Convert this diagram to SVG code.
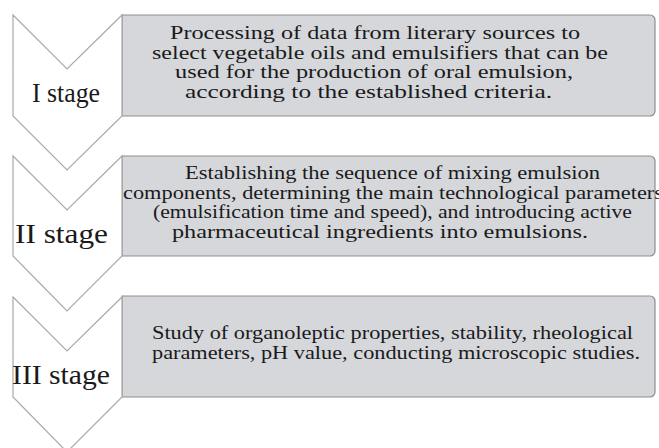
<svg xmlns="http://www.w3.org/2000/svg" width="659" height="448" viewBox="0 0 659 448">
<style>
.box{fill:#d5d7da;stroke:#8e8e8e;stroke-width:1.2}
.chev{fill:#ffffff;stroke:#a9a9a9;stroke-width:1.2;stroke-linejoin:miter}
.lbl{font-family:"Liberation Serif","Times New Roman",serif;font-size:27px;fill:#1a1a1a}
.txt{font-family:"Liberation Serif","Times New Roman",serif;font-size:19px;fill:#1a1a1a}
</style>
<rect width="659" height="448" fill="#ffffff"/>
<g id="connectors"></g>
<g id="stage1">
<path class="box" d="M122,15 H650 A5,5 0 0 1 655,20 V111 A5,5 0 0 1 650,116 H122 Z"/>
<path class="chev" d="M13,15 L67,69 L122,15 L122,116 L67,170 L13,116 Z"/>
<text class="lbl" x="32" y="102" textLength="68" lengthAdjust="spacingAndGlyphs">I stage</text>
<text class="txt" x="170" y="39" textLength="410" lengthAdjust="spacingAndGlyphs">Processing of data from literary sources to</text>
<text class="txt" x="152" y="58.5" textLength="456" lengthAdjust="spacingAndGlyphs">select vegetable oils and emulsifiers that can be</text>
<text class="txt" x="175" y="78" textLength="398" lengthAdjust="spacingAndGlyphs">used for the production of oral emulsion,</text>
<text class="txt" x="185" y="97.5" textLength="367" lengthAdjust="spacingAndGlyphs">according to the established criteria.</text>
</g>
<g id="stage2">
<path class="box" d="M122,156 H650 A5,5 0 0 1 655,161 V251 A5,5 0 0 1 650,256 H122 Z"/>
<path class="chev" d="M13,156 L67,210 L122,156 L122,256 L67,311 L13,256 Z"/>
<text class="lbl" x="15" y="243" textLength="93" lengthAdjust="spacingAndGlyphs">II stage</text>
<text class="txt" x="185" y="179" textLength="415" lengthAdjust="spacingAndGlyphs">Establishing the sequence of mixing emulsion</text>
<text class="txt" x="123" y="198.5" textLength="540" lengthAdjust="spacingAndGlyphs">components, determining the main technological parameters</text>
<text class="txt" x="153" y="218" textLength="479" lengthAdjust="spacingAndGlyphs">(emulsification time and speed), and introducing active</text>
<text class="txt" x="172" y="237.5" textLength="416" lengthAdjust="spacingAndGlyphs">pharmaceutical ingredients into emulsions.</text>
</g>
<g id="stage3">
<path class="box" d="M122,296 H650 A5,5 0 0 1 655,301 V392 A5,5 0 0 1 650,397 H122 Z"/>
<path class="chev" d="M13,297 L67,351 L122,297 L122,397 L67,452 L13,397 Z"/>
<text class="lbl" x="12" y="384" textLength="98" lengthAdjust="spacingAndGlyphs">III stage</text>
<text class="txt" x="152" y="339" textLength="481" lengthAdjust="spacingAndGlyphs">Study of organoleptic properties, stability, rheological</text>
<text class="txt" x="152" y="358.5" textLength="488" lengthAdjust="spacingAndGlyphs">parameters, pH value, conducting microscopic studies.</text>
</g>
</svg>
